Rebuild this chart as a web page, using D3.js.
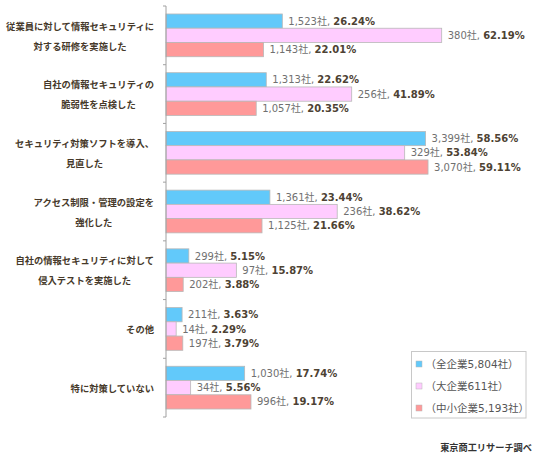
<!DOCTYPE html>
<html>
<head>
<meta charset="utf-8">
<script src="https://cdn.jsdelivr.net/npm/d3@7"></script>
<style>
  body { margin: 0; background: #fff; }
  svg { display: block; }
</style>
</head>
<body>
<div id="chart"></div>
<script>
// 項目（2行ラベルは配列で）
const categories = [
  ["従業員に対して情報セキュリティに", "対する研修を実施した"],
  ["自社の情報セキュリティの", "脆弱性を点検した"],
  ["セキュリティ対策ソフトを導入、", "見直した"],
  ["アクセス制限・管理の設定を", "強化した"],
  ["自社の情報セキュリティに対して", "侵入テストを実施した"],
  ["その他"],
  ["特に対策していない"]
];
const series = ["（全企業5,804社）", "（大企業611社）", "（中小企業5,193社）"];
const colors = ["#62c9fa", "#ffccff", "#ff9999"];

// 社数
const countAll   = [1523, 1313, 3399, 1361, 299, 211, 1030];
const countLarge = [380, 256, 329, 236, 97, 14, 34];
const countSmall = [1143, 1057, 3070, 1125, 202, 197, 996];
// 構成比 (%)
const pctAll   = [26.24, 22.62, 58.56, 23.44, 5.15, 3.63, 17.74];
const pctLarge = [62.19, 41.89, 53.84, 38.62, 15.87, 2.29, 5.56];
const pctSmall = [22.01, 20.35, 59.11, 21.66, 3.88, 3.79, 19.17];

const counts = [countAll, countLarge, countSmall];
const pcts = [pctAll, pctLarge, pctSmall];

const width = 545, height = 459;

const svg = d3.select("#chart").append("svg")
    .attr("width", width)
    .attr("height", height);

const keys = categories.map((d, i) => i);

const y = d3.scaleBand()
    .domain(keys)
    .range([6, 417]);

const ySub = d3.scaleBand()
    .domain(d3.range(series.length))
    .range([0, y.bandwidth()])
    .paddingOuter(0.56);

const x = d3.scaleLinear()
    .domain([0, 70])
    .range([166, 166 + 70 * 4.433]);

// バー
categories.forEach((cat, i) => {
  const g = svg.append("g").attr("transform", `translate(0,${y(i)})`);
  series.forEach((s, j) => {
    g.append("rect")
      .attr("x", x(0))
      .attr("y", ySub(j))
      .attr("width", x(pcts[j][i]) - x(0))
      .attr("height", ySub.bandwidth())
      .attr("fill", colors[j])
      .attr("stroke", "#b8b8b8")
      .attr("stroke-width", 0.8);

    const t = g.append("text")
      .attr("x", x(pcts[j][i]) + 6)
      .attr("y", ySub(j) + ySub.bandwidth() / 2)
      .attr("dy", "0.36em")
      .attr("font-family", "'DejaVu Sans', 'Noto Sans CJK JP', sans-serif")
      .attr("font-size", 10);
    t.append("tspan")
      .attr("fill", "#707070")
      .text(d3.format(",")(counts[j][i]) + "社, ");
    t.append("tspan")
      .attr("fill", "#4d4233")
      .attr("font-weight", "bold")
      .text(pcts[j][i].toFixed(2) + "%");
  });
});

// 軸
svg.append("line")
  .attr("x1", x(0)).attr("x2", x(0))
  .attr("y1", y.range()[0]).attr("y2", y.range()[1])
  .attr("stroke", "#a0a0a0");

const tickPos = keys.map(k => y(k)).concat([y.range()[1]]);
svg.selectAll(".tick")
  .data(tickPos)
  .enter().append("line")
  .attr("class", "tick")
  .attr("x1", x(0) - 3).attr("x2", x(0))
  .attr("y1", d => d).attr("y2", d => d)
  .attr("stroke", "#a0a0a0");

// 項目ラベル
const labelRight = 154;
categories.forEach((lines, i) => {
  const cy = y(i) + y.bandwidth() / 2 + 1;
  const t = svg.append("text")
    .attr("font-family", "'Noto Sans CJK JP', sans-serif")
    .attr("font-size", 9.3)
    .attr("font-weight", "bold")
    .attr("fill", "#46392a")
    .attr("text-anchor", "middle");
  lines.forEach((ln, k) => {
    t.append("tspan")
      .attr("y", cy + (k - (lines.length - 1) / 2) * 20)
      .attr("dy", "0.35em")
      .text(ln);
  });
  const w = d3.max(t.selectAll("tspan").nodes(), n => n.getComputedTextLength());
  t.selectAll("tspan").attr("x", labelRight - w / 2);
});

// 凡例
const legend = svg.append("g").attr("transform", "translate(411.5,351.5)");
legend.append("rect")
  .attr("width", 114.5).attr("height", 66.5)
  .attr("fill", "#fff")
  .attr("stroke", "#c8c8c8");
series.forEach((s, j) => {
  const row = legend.append("g").attr("transform", `translate(0,${12.5 + j * 22})`);
  row.append("rect")
    .attr("x", 4.5).attr("y", -3)
    .attr("width", 6).attr("height", 6)
    .attr("fill", colors[j])
    .attr("stroke", "#b8b8b8")
    .attr("stroke-width", 0.5);
  row.append("text")
    .attr("x", 14)
    .attr("dy", "0.35em")
    .attr("font-family", "'DejaVu Sans', 'Noto Sans CJK JP', sans-serif")
    .attr("font-size", 10.5)
    .attr("fill", "#555")
    .text(s);
});

// 出典
svg.append("text")
  .attr("x", 532)
  .attr("y", 448)
  .attr("dy", "0.35em")
  .attr("text-anchor", "end")
  .attr("font-family", "'Noto Sans CJK JP', sans-serif")
  .attr("font-size", 9.2)
  .attr("font-weight", "bold")
  .attr("fill", "#333")
  .text("東京商工リサーチ調べ");
</script>
</body>
</html>
